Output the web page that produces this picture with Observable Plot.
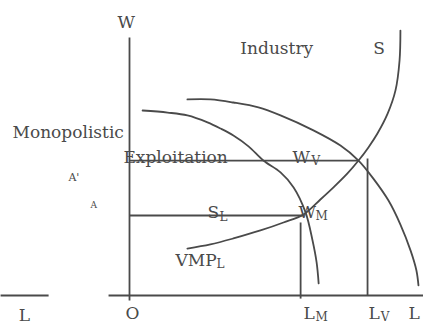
<!DOCTYPE html>
<html><head><meta charset="utf-8">
<script src="https://cdn.jsdelivr.net/npm/d3@7"></script>
<script src="https://cdn.jsdelivr.net/npm/@observablehq/plot@0.6"></script>
<style>
html,body{margin:0;padding:0;background:#fff;}
</style></head><body><div id="chart"></div>
<script>
// Industry supply curve S (L, W)
const industrySupply = [[19.9,18.2],[27.8,19.8],[35.7,22.1],[45.0,25.2],[52.9,28.3],[59.8,31.4],[65.6,37.2],[70.1,41.9],[74.9,47.3],[78.7,52.3],[82.1,57.4],[85.2,62.8],[88.7,70.5],[91.4,79.5],[92.8,91.1],[93.1,102.7]];
// Monopolistic VMP curve (inner)
const vmpMonopolistic = [[4.5,71.7],[13.1,70.9],[19.9,69.8],[26.8,67.1],[31.3,64.7],[35.7,62.0],[40.9,57.8],[46.0,52.3],[51.9,47.7],[56.4,41.9],[60.5,32.2],[62.9,21.3],[64.3,12.8],[65.0,4.7]];
// Industry VMP curve (outer)
const vmpIndustry = [[19.9,76.0],[27.8,76.0],[35.7,74.8],[44.3,72.9],[51.9,69.8],[63.2,64.0],[72.5,58.1],[78.7,52.3],[83.8,45.3],[89.0,36.8],[93.1,27.5],[96.6,17.4],[98.6,9.7],[99.3,3.9]];
// Axes and guide segments (x1, y1, x2, y2)
const axisSegments = [
  {x1:0, y1:-1.9, x2:0, y2:100},
  {x1:-7.2, y1:0, x2:101, y2:0},
  {x1:-44.3, y1:0, x2:-27.8, y2:0}
];
const guideSegments = [
  {x1:0, y1:52.3, x2:78.7, y2:52.3},   // W_V
  {x1:0, y1:31.0, x2:59.8, y2:31.0},   // S_L / W_M
  {x1:58.8, y1:-1.2, x2:58.8, y2:28.3}, // L_M
  {x1:81.8, y1:0, x2:81.8, y2:53.1}     // L_V
];
// Labels
const mainLabels = [
  {t:"W", x:-4.1, y:105.8},
  {t:"Industry", x:38.1, y:95.7},
  {t:"S", x:83.8, y:95.7},
  {t:"Monopolistic", x:-40.2, y:63.2},
  {t:"Exploitation", x:-2.1, y:53.5},
  {t:"W", x:56.0, y:53.5},
  {t:"S", x:26.8, y:32.2},
  {t:"W", x:58.1, y:32.2},
  {t:"VMP", x:15.8, y:13.6},
  {t:"O", x:-1.4, y:-7.0},
  {t:"L", x:59.8, y:-7.0},
  {t:"L", x:82.1, y:-7.0},
  {t:"L", x:95.9, y:-7.0},
  {t:"L", x:-38.1, y:-7.8}
];
const subLabels = [
  {t:"V", x:62.5, y:52.0},
  {t:"L", x:30.9, y:30.2},
  {t:"M", x:63.9, y:30.6},
  {t:"L", x:29.9, y:12.0},
  {t:"M", x:63.9, y:-8.5},
  {t:"V", x:86.3, y:-8.5}
];
const pointLabels = [
  {t:"A'", x:-21.0, y:45.7, s:11},
  {t:"A", x:-13.4, y:34.9, s:9}
];

const ink = "#4a4a4a";
const serif = "'DejaVu Serif', 'Liberation Serif', serif";
const lineOpts = {x: d => d[0], y: d => d[1], curve: "catmull-rom", stroke: ink, strokeWidth: 1.8};
const plot = Plot.plot({
  width: 423, height: 326, margin: 0,
  x: {domain: [-44.33, 101.03], axis: null},
  y: {domain: [-12.02, 114.34], axis: null},
  style: {background: "#fff", fontFamily: serif, color: ink},
  marks: [
    Plot.link(axisSegments, {x1:"x1", y1:"y1", x2:"x2", y2:"y2", stroke: ink, strokeWidth: 1.8}),
    Plot.link(guideSegments, {x1:"x1", y1:"y1", x2:"x2", y2:"y2", stroke: ink, strokeWidth: 1.8}),
    Plot.line(industrySupply, lineOpts),
    Plot.line(vmpMonopolistic, lineOpts),
    Plot.line(vmpIndustry, lineOpts),
    Plot.text(mainLabels, {x:"x", y:"y", text:"t", textAnchor:"start", lineAnchor:"middle", fontSize:17, fontFamily: serif, fill: ink}),
    Plot.text(subLabels, {x:"x", y:"y", text:"t", textAnchor:"start", lineAnchor:"middle", fontSize:12, fontFamily: serif, fill: ink}),
    Plot.text(pointLabels, {x:"x", y:"y", text:"t", textAnchor:"start", lineAnchor:"middle", fontSize: d => d.s, fontFamily: serif, fill: ink})
  ]
});
document.getElementById("chart").appendChild(plot);
</script></body></html>
